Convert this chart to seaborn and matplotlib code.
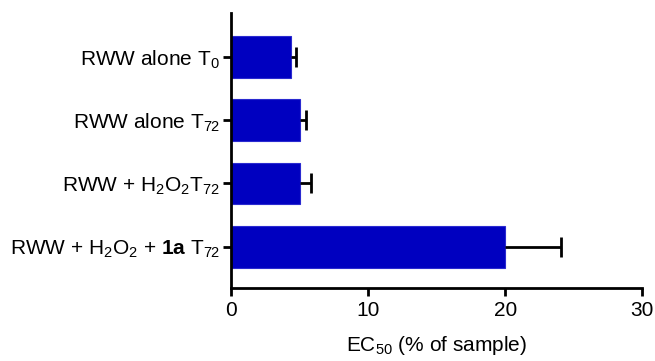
import numpy as np
import pandas as pd
import seaborn as sns
from matplotlib import pyplot as plt

sns.set_style('ticks')
plt.rcParams['font.family'] = ['Liberation Sans', 'DejaVu Sans']
plt.rcParams['mathtext.fontset'] = 'custom'
plt.rcParams['mathtext.rm'] = 'Liberation Sans'
plt.rcParams['mathtext.it'] = 'Liberation Sans:italic'
plt.rcParams['mathtext.bf'] = 'Liberation Sans:bold'
plt.rcParams['text.color'] = 'black'
plt.rcParams['axes.labelcolor'] = 'black'
plt.rcParams['xtick.color'] = 'black'
plt.rcParams['ytick.color'] = 'black'

# data
samples = ['RWW alone T$_0$',
           'RWW alone T$_{72}$',
           'RWW + H$_2$O$_2$T$_{72}$',
           'RWW + H$_2$O$_2$ + $\\mathbf{1a}$ T$_{72}$']
ec50 = [4.35, 5.05, 5.0, 20.0]
ec50_err = [0.4, 0.4, 0.85, 4.05]

df = pd.DataFrame({'sample': samples, 'EC50': ec50, 'err': ec50_err})

fig = plt.figure(figsize=(6.55, 3.61), dpi=100)
ax = fig.add_axes([0.3527, 0.2022, 0.6279, 0.7618])

sns.barplot(data=df, x='EC50', y='sample', orient='h', color='#0000C0',
            saturation=1, width=0.66, edgecolor='#2a2ad0', linewidth=0.8, ax=ax)

# one-sided error bars, drop the cap at the bar end
eb = ax.errorbar(df['EC50'], np.arange(len(df)), xerr=[np.zeros(len(df)), df['err']],
                 fmt='none', ecolor='black', elinewidth=2, capsize=7.5, capthick=2)
eb[1][0].remove()

ax.set_xlim(0, 30)
ax.set_ylim(3.65, -0.69)
ax.set_xticks([0, 10, 20, 30])
ax.set_ylabel('')
ax.set_xlabel('EC$_{50}$ (% of sample)', fontsize=15, labelpad=10)
ax.tick_params(axis='both', labelsize=15, width=2, length=6, color='black')
ax.tick_params(axis='y', pad=2)
sns.despine(ax=ax)
for s in ['left', 'bottom']:
    ax.spines[s].set_linewidth(2)
    ax.spines[s].set_color('black')

fig.savefig('out.png', dpi=100)
